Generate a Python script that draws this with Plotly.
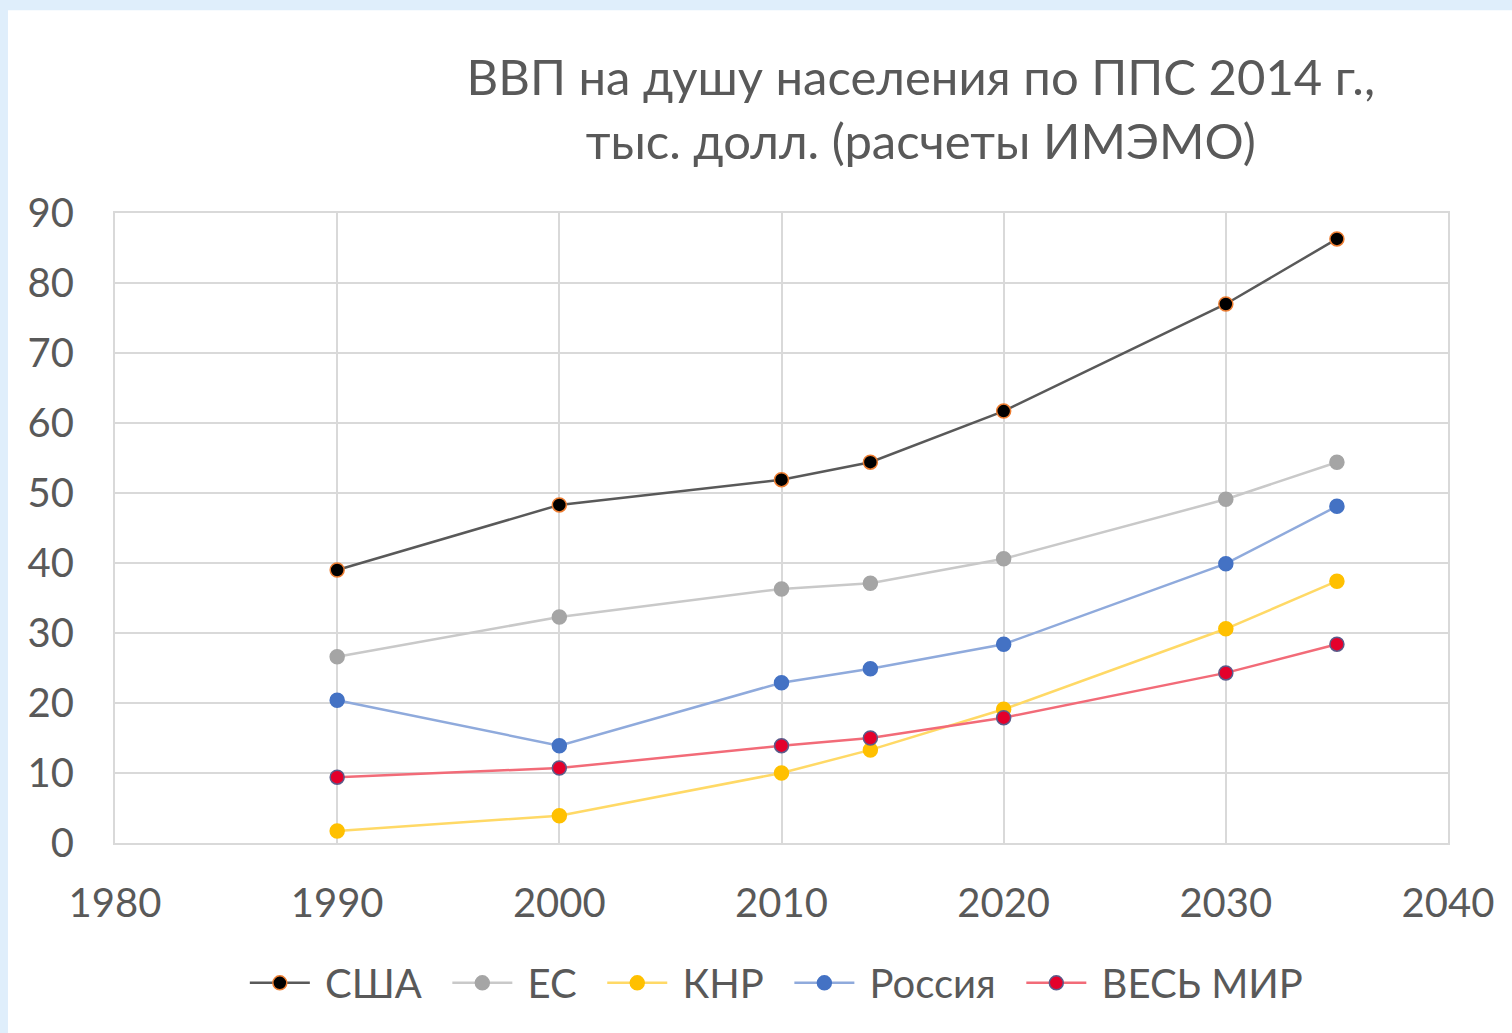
import plotly.graph_objects as go

years = [1990, 2000, 2010, 2014, 2020, 2030, 2035]
usa = [39.0, 48.3, 51.9, 54.4, 61.7, 77.0, 86.3]
eu = [26.6, 32.3, 36.3, 37.1, 40.6, 49.1, 54.4]
china = [1.7, 3.9, 10.0, 13.3, 19.1, 30.6, 37.4]
russia = [20.4, 13.9, 22.9, 24.9, 28.4, 39.9, 48.1]
world = [9.4, 10.7, 13.9, 15.0, 17.9, 24.3, 28.4]

x_ticks = [1980, 1990, 2000, 2010, 2020, 2030, 2040]
y_ticks = [0, 10, 20, 30, 40, 50, 60, 70, 80, 90]

title_text = "ВВП на душу населения по ППС 2014 г.,<br>тыс. долл. (расчеты ИМЭМО)"

series = [
    ("США", usa, "#595959", "#000000", "#ED7D31"),
    ("ЕС", eu, "#C9C9C9", "#A5A5A5", "#A5A5A5"),
    ("КНР", china, "#FFD966", "#FFC000", "#FFC000"),
    ("Россия", russia, "#8FAADC", "#4472C4", "#4472C4"),
    ("ВЕСЬ МИР", world, "#F26B78", "#E4002B", "#5B5B8A"),
]

lead = "\u00a0"
pad = "\u00a0" * 2
font = "Lato, 'Open Sans', sans-serif"
fig = go.Figure()
for name, vals, lc, mc, mlc in series:
    fig.add_trace(go.Scatter(
        x=years, y=vals, name=lead + name + pad, mode="lines+markers",
        line=dict(color=lc, width=2.5),
        marker=dict(size=14, color=mc, line=dict(color=mlc, width=1.5)),
    ))

fig.update_layout(
    width=1512, height=1033,
    margin=dict(l=115, r=64, t=213, b=190, autoexpand=False),
    paper_bgcolor="#DFEEFB",
    plot_bgcolor="white",
    title=dict(text=title_text, x=0.609, xanchor="center", y=0.908, yanchor="middle",
               font=dict(family=font, size=49, color="#595959")),
    font=dict(family=font, color="#595959"),
    showlegend=True,
    legend=dict(orientation="h", x=0.504, xanchor="center", y=-0.222, yanchor="middle",
                bgcolor="rgba(0,0,0,0)",
                font=dict(size=40, color="#595959"), itemwidth=60, tracegroupgap=0),
    shapes=[dict(type="rect", xref="paper", yref="paper", x0=-0.0803, x1=1.2, y0=-0.6, y1=1.322,
                 fillcolor="white", line=dict(width=0), layer="below")],
)
fig.update_xaxes(range=[1980, 2040], tickvals=x_ticks, showgrid=True, gridcolor="#D9D9D9", gridwidth=2,
                 zeroline=False, showline=True, mirror=True, linecolor="#D9D9D9", linewidth=2,
                 tickfont=dict(size=40, color="#595959"), automargin=False,
                 ticklabelstandoff=24)
fig.update_yaxes(range=[0, 90], tickvals=y_ticks, showgrid=True, gridcolor="#D9D9D9", gridwidth=2,
                 zeroline=False, showline=True, mirror=True, linecolor="#D9D9D9", linewidth=2,
                 tickfont=dict(size=40, color="#595959"), automargin=False,
                 ticklabelstandoff=31)

fig.write_html("out.html", config={"displayModeBar": False},
               post_script="document.body.style.margin='0';document.body.style.background='#DFEEFB';")
